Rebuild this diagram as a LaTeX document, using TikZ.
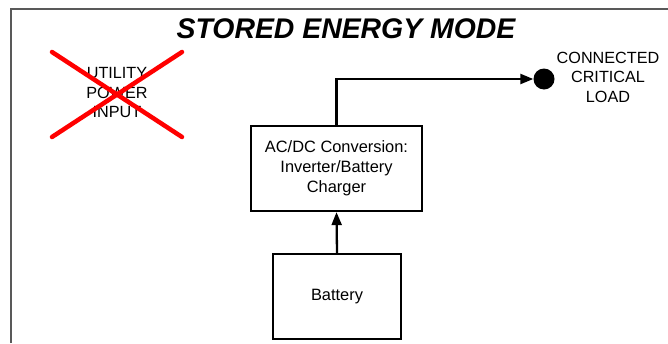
\documentclass[tikz,border=0pt]{standalone}
\usepackage{fontspec}
\setmainfont{Liberation Sans}
\usetikzlibrary{arrows.meta}
\begin{document}
\begin{tikzpicture}[x=1pt,y=-1pt,
  blk/.style={draw,line width=2.3pt,inner sep=0pt,font=\fontsize{16.4}{20}\selectfont,align=center},
  lbl/.style={inner sep=0pt,font=\fontsize{16.2}{19.5}\selectfont,align=center},
  conn/.style={line width=2.3pt,-{Triangle[length=13pt,width=10pt]}}]
\useasboundingbox (0,0) rectangle (668,343);
\draw[gray!70!black,line width=1.6pt] (11,343) -- (11,9) -- (670,9);
\node[inner sep=0pt,font=\fontsize{28.4}{30}\selectfont\bfseries\itshape] (title) at (346,29) {STORED ENERGY MODE};
\node[lbl] (util) at (117,93) {UTILITY\\POWER\\INPUT};
\draw[red,line width=4.5pt,line cap=round] (52,52) -- (182,137);
\draw[red,line width=4.5pt,line cap=round] (52,137) -- (182,52);
\node[blk,minimum width=171pt,minimum height=85pt] (inv) at (336.5,168.5) {AC/DC Conversion:\\Inverter/Battery\\Charger};
\node[blk,minimum width=128pt,minimum height=85pt] (bat) at (337,296.5) {Battery};
\node[circle,fill=black,minimum size=21pt,inner sep=0pt] (dot) at (544,79) {};
\node[lbl] (load) at (608,77) {CONNECTED\\CRITICAL\\LOAD};
\draw[conn] (bat.north) -- (inv.south);
\draw[conn] (inv.north) |- (dot.west);
\end{tikzpicture}
\end{document}
